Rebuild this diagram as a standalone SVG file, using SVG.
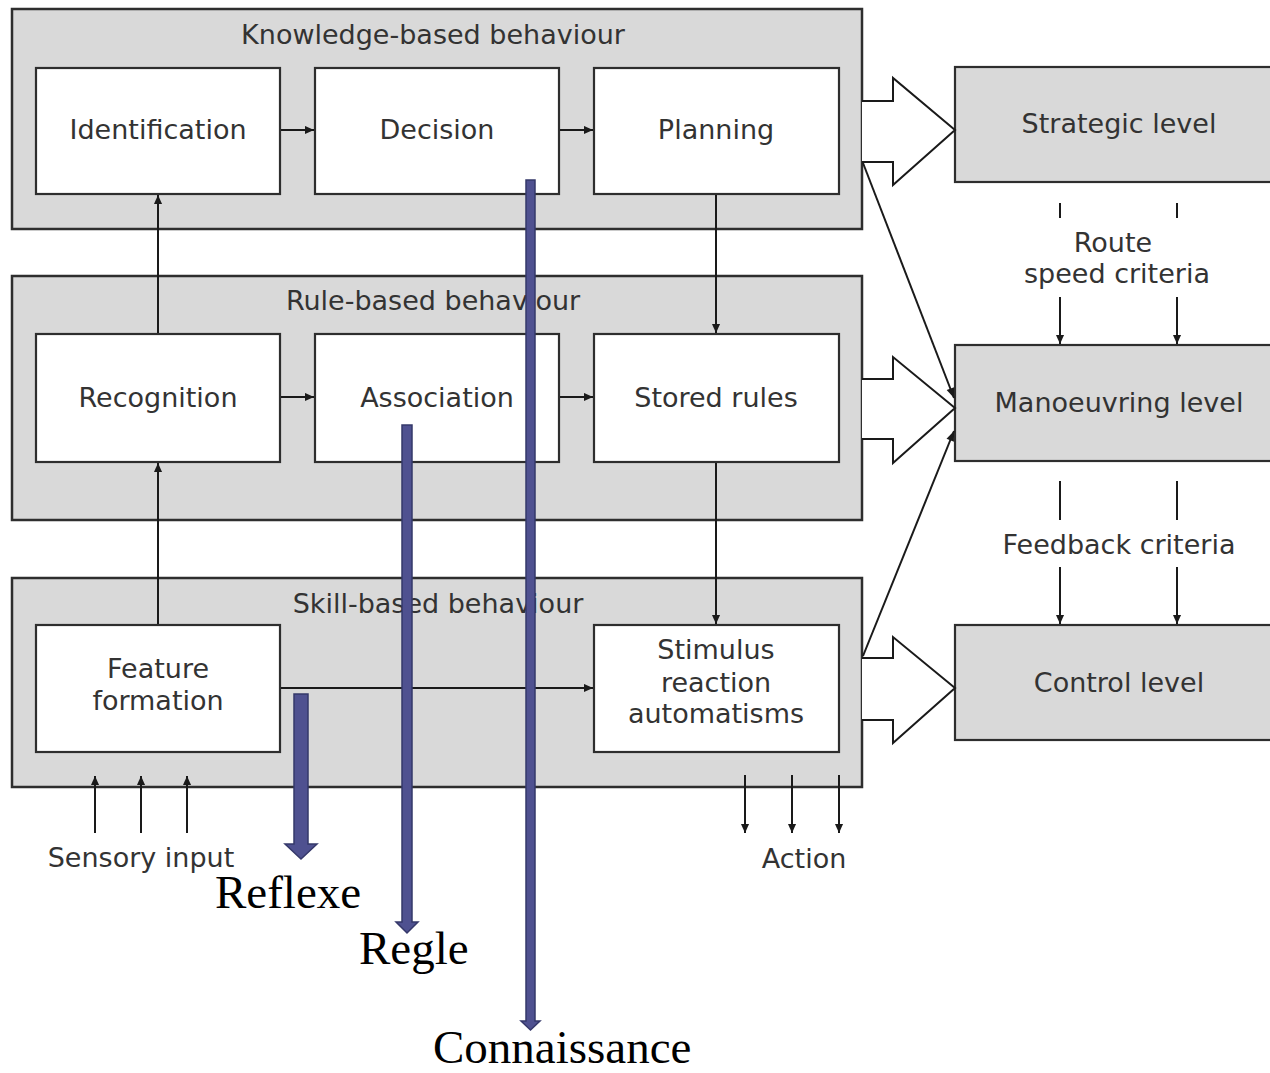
<svg xmlns="http://www.w3.org/2000/svg" width="1270" height="1073" viewBox="0 0 1270 1073">
  <style>
    .panel { fill: #d9d9d9; stroke: #2e2e2e; stroke-width: 2.5; }
    .box { fill: #ffffff; stroke: #2e2e2e; stroke-width: 2.2; }
    .level { fill: #d9d9d9; stroke: #2e2e2e; stroke-width: 2.2; }
    .lbl { font-family: "DejaVu Sans", Verdana, sans-serif; font-size: 27px; fill: #333333; text-anchor: middle; }
    .serif { font-family: "Liberation Serif", "Times New Roman", serif; font-size: 47px; fill: #000000; }
    .wire { fill: none; stroke: #1a1a1a; stroke-width: 2; }
    .block { fill: #ffffff; stroke: #1a1a1a; stroke-width: 2; stroke-linejoin: miter; }
    .blue { fill: #4f5190; stroke: #35386a; stroke-width: 1.5; }
  </style>
  <defs>
    <!-- small filled head for thin connectors -->
    <marker id="ah" viewBox="0 0 10 10" refX="10" refY="5" markerWidth="10" markerHeight="9" markerUnits="userSpaceOnUse" orient="auto">
      <path d="M0,0.5 L10,5 L0,9.5 z" fill="#1a1a1a"/>
    </marker>
    <marker id="ahs" viewBox="0 0 10 10" refX="10" refY="5" markerWidth="11" markerHeight="10" markerUnits="userSpaceOnUse" orient="auto">
      <path d="M0,1 L10,5 L0,9 z" fill="#1a1a1a"/>
    </marker>
  </defs>
  <rect width="1270" height="1073" fill="#ffffff"/>

  <!-- behaviour panels -->
  <g id="knowledge-panel">
    <rect class="panel" x="12" y="9" width="850" height="220"/>
    <text class="lbl" x="433" y="44">Knowledge-based behaviour</text>
  </g>
  <g id="rule-panel">
    <rect class="panel" x="12" y="276" width="850" height="244"/>
    <text class="lbl" x="433" y="310">Rule-based behaviour</text>
  </g>
  <g id="skill-panel">
    <rect class="panel" x="12" y="578" width="850" height="209"/>
    <text class="lbl" x="438" y="613">Skill-based behaviour</text>
  </g>

  <!-- process boxes -->
  <g id="identification">
    <rect class="box" x="36" y="68" width="244" height="126"/>
    <text class="lbl" x="158" y="139">Identification</text>
  </g>
  <g id="decision">
    <rect class="box" x="315" y="68" width="244" height="126"/>
    <text class="lbl" x="437" y="139">Decision</text>
  </g>
  <g id="planning">
    <rect class="box" x="594" y="68" width="245" height="126"/>
    <text class="lbl" x="716" y="139">Planning</text>
  </g>
  <g id="recognition">
    <rect class="box" x="36" y="334" width="244" height="128"/>
    <text class="lbl" x="158" y="407">Recognition</text>
  </g>
  <g id="association">
    <rect class="box" x="315" y="334" width="244" height="128"/>
    <text class="lbl" x="437" y="407">Association</text>
  </g>
  <g id="stored-rules">
    <rect class="box" x="594" y="334" width="245" height="128"/>
    <text class="lbl" x="716" y="407">Stored rules</text>
  </g>
  <g id="feature-formation">
    <rect class="box" x="36" y="625" width="244" height="127"/>
    <text class="lbl" x="158" y="678">Feature</text>
    <text class="lbl" x="158" y="710">formation</text>
  </g>
  <g id="stimulus-reaction">
    <rect class="box" x="594" y="625" width="245" height="127"/>
    <text class="lbl" x="716" y="659">Stimulus</text>
    <text class="lbl" x="716" y="692">reaction</text>
    <text class="lbl" x="716" y="723">automatisms</text>
  </g>

  <!-- levels -->
  <g id="strategic-level">
    <rect class="level" x="955" y="67" width="320" height="115"/>
    <text class="lbl" x="1119" y="133">Strategic level</text>
  </g>
  <g id="manoeuvring-level">
    <rect class="level" x="955" y="345" width="320" height="116"/>
    <text class="lbl" x="1119" y="412">Manoeuvring level</text>
  </g>
  <g id="control-level">
    <rect class="level" x="955" y="625" width="320" height="115"/>
    <text class="lbl" x="1119" y="692">Control level</text>
  </g>

  <!-- free labels -->
  <g id="labels">
    <text class="lbl" x="141" y="867">Sensory input</text>
    <text class="lbl" x="804" y="868">Action</text>
    <text class="lbl" x="1113" y="252">Route</text>
    <text class="lbl" x="1117" y="283">speed criteria</text>
    <text class="lbl" x="1119" y="554">Feedback criteria</text>
    <text class="serif" x="215" y="908">Reflexe</text>
    <text class="serif" x="359" y="964">Regle</text>
    <text class="serif" x="433" y="1063">Connaissance</text>
  </g>

  <!-- connectors -->
  <g id="connectors">
    <line class="wire" x1="281" y1="130" x2="314" y2="130" marker-end="url(#ah)"/>
    <line class="wire" x1="560" y1="130" x2="593" y2="130" marker-end="url(#ah)"/>
    <line class="wire" x1="281" y1="397" x2="314" y2="397" marker-end="url(#ah)"/>
    <line class="wire" x1="560" y1="397" x2="593" y2="397" marker-end="url(#ah)"/>
    <line class="wire" x1="158" y1="333" x2="158" y2="195" marker-end="url(#ah)"/>
    <line class="wire" x1="158" y1="624" x2="158" y2="463" marker-end="url(#ah)"/>
    <line class="wire" x1="716" y1="195" x2="716" y2="333" marker-end="url(#ah)"/>
    <line class="wire" x1="716" y1="463" x2="716" y2="624" marker-end="url(#ah)"/>
    <line class="wire" x1="281" y1="688" x2="593" y2="688" marker-end="url(#ah)"/>

    <!-- sensory input -->
    <line class="wire" x1="95" y1="833" x2="95" y2="776" marker-end="url(#ah)"/>
    <line class="wire" x1="141" y1="833" x2="141" y2="776" marker-end="url(#ah)"/>
    <line class="wire" x1="187" y1="833" x2="187" y2="776" marker-end="url(#ah)"/>
    <!-- action -->
    <line class="wire" x1="745" y1="775" x2="745" y2="833" marker-end="url(#ah)"/>
    <line class="wire" x1="792" y1="775" x2="792" y2="833" marker-end="url(#ah)"/>
    <line class="wire" x1="839" y1="775" x2="839" y2="833" marker-end="url(#ah)"/>

    <!-- hollow block arrows to the levels -->
    <path class="block" d="M862,101 H893 V78 L955,130 L893,185 V162 H862"/>
    <path class="block" d="M862,379 H893 V357 L955,408 L893,463 V439 H862"/>
    <path class="block" d="M862,658 H893 V637 L955,688 L893,743 V720 H862"/>

    <!-- diagonal links to manoeuvring level -->
    <line class="wire" x1="863" y1="163" x2="954" y2="398" marker-end="url(#ahs)"/>
    <line class="wire" x1="863" y1="656" x2="954" y2="431" marker-end="url(#ahs)"/>

    <!-- criteria between levels -->
    <line class="wire" x1="1060" y1="203" x2="1060" y2="218"/>
    <line class="wire" x1="1177" y1="203" x2="1177" y2="218"/>
    <line class="wire" x1="1060" y1="297" x2="1060" y2="344" marker-end="url(#ah)"/>
    <line class="wire" x1="1177" y1="297" x2="1177" y2="344" marker-end="url(#ah)"/>
    <line class="wire" x1="1060" y1="481" x2="1060" y2="520"/>
    <line class="wire" x1="1177" y1="481" x2="1177" y2="520"/>
    <line class="wire" x1="1060" y1="567" x2="1060" y2="624" marker-end="url(#ah)"/>
    <line class="wire" x1="1177" y1="567" x2="1177" y2="624" marker-end="url(#ah)"/>

    <!-- blue level arrows -->
    <path class="blue" d="M294,694 H308 V844 H317 L301,859 L285,844 H294 Z"/>
    <path class="blue" d="M402,425 H412 V922 H418 L407,933 L396,922 H402 Z"/>
    <path class="blue" d="M526,180 H535 V1021 H540 L530.5,1030 L521,1021 H526 Z"/>
  </g>
</svg>
